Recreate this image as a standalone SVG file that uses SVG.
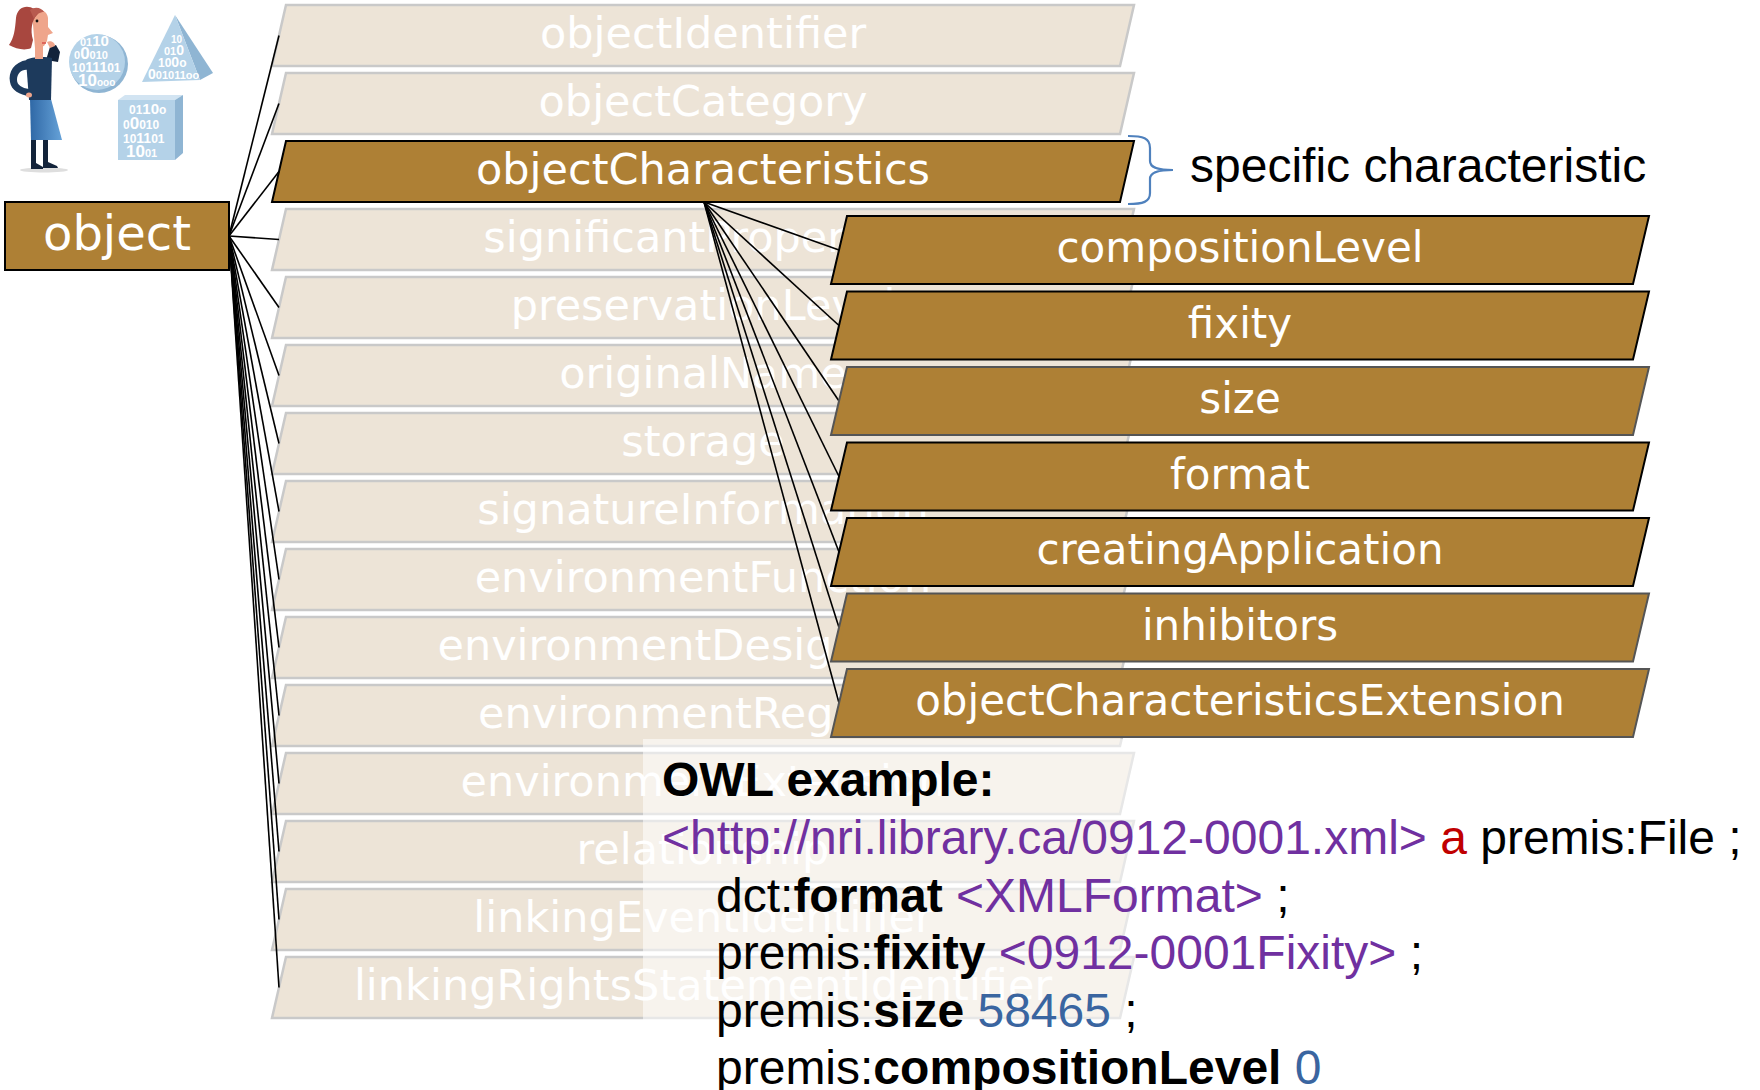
<svg xmlns="http://www.w3.org/2000/svg" width="1760" height="1090" viewBox="0 0 1760 1090">
  <style>
    .band { fill: #ede4d7; stroke: #c9c9c9; stroke-width: 2.5; }
    .brown { fill: #ae8035; stroke: #000; stroke-width: 2; }
    .brown-soft { fill: #ae8035; stroke: #555; stroke-width: 2; }
    .lbl { font-family: "DejaVu Sans", Verdana, sans-serif; font-size: 42px; fill: #fff; text-anchor: middle; }
    .lbl43 { font-size: 43px; }
    .edge { stroke: #000; stroke-width: 1.6; fill: none; }
    .owl { font-family: "Liberation Sans", Arial, sans-serif; font-size: 48px; fill: #000; }
    .b { font-weight: bold; }
    .uri { fill: #7030a0; }
    .kw { fill: #c00000; }
    .num { fill: #3a65a0; }
    .bits { font-family: "Liberation Sans", Arial, sans-serif; font-weight: bold; fill: #fff; }
    .face { fill: #b4d2e8; }
    .side { fill: #8fb5d3; }
    .topf { fill: #d2e4f2; }
  </style>
  <defs>
    <linearGradient id="skirt" x1="0" y1="0" x2="1" y2="0">
      <stop offset="0" stop-color="#2f68a6"/>
      <stop offset="1" stop-color="#66a2d8"/>
    </linearGradient>
  </defs>

  <rect width="1760" height="1090" fill="#fff"/>

  <!-- clip-art: thinking woman and binary solids -->
  <g id="illustration">
    <ellipse cx="44" cy="170" rx="24" ry="2.5" fill="#dedede"/>
    <!-- legs and shoes -->
    <rect x="31" y="138" width="5" height="29" fill="#13233a"/>
    <rect x="43" y="138" width="5" height="28" fill="#13233a"/>
    <path d="M31,164 L36,163 L43,167 L43,169 L31,169 Z" fill="#13233a"/>
    <path d="M43,163 L48,162 L57,166 L58,168 L43,168 Z" fill="#13233a"/>
    <!-- skirt -->
    <polygon points="30,99 51,99 62,140 31,140" fill="url(#skirt)"/>
    <!-- raised arm -->
    <path d="M46,60 L50,47 L56,45 L60,52 L58,62 Z" fill="#13233a"/>
    <!-- torso -->
    <path d="M26,60 C30,57 44,56 52,58 L51,100 L29,100 Z" fill="#1d3a5c"/>
    <!-- arm resting on hip -->
    <path d="M27,60 C14,62 8,72 10,82 C11,90 20,95 29,96 L29,89 C22,88 17,85 17,80 C17,73 22,69 28,70 Z" fill="#1d3a5c"/>
    <ellipse cx="29" cy="95" rx="3" ry="2.5" fill="#efa58b"/>
    <!-- neck, face, hand -->
    <rect x="35" y="46" width="8" height="13" fill="#efa58b"/>
    <path d="M32,13 C38,7 47,10 48,18 L48,27 L53,33 L48,35 L47,41 L44,46 L35,48 Z" fill="#efa58b"/>
    <path d="M47,42 C50,40 55,42 55,46 L50,48 Z" fill="#efa58b"/>
    <circle cx="37" cy="21" r="1.4" fill="#111"/>
    <path d="M42,43 L46,43" stroke="#d23a3a" stroke-width="1.2"/>
    <!-- hair -->
    <path d="M34,9 C27,4 17,7 16,18 C15,30 14,38 9,45 C16,49 25,51 31,48 L33,40 C30,30 32,20 37,15 C39,13 38,10 34,9 Z" fill="#a8473f"/>
    <path d="M30,10 C35,6 42,8 44,12 C40,12 36,14 34,19 Z" fill="#b85a4f"/>

    <!-- disc -->
    <circle cx="99" cy="64" r="29" class="side"/>
    <circle cx="97" cy="62" r="28" class="face"/>
    <text class="bits" font-size="11" x="80" y="46">01<tspan font-size="15">10</tspan></text>
    <text class="bits" font-size="11" x="74" y="59">0<tspan font-size="17">0</tspan>010</text>
    <text class="bits" font-size="12" x="72" y="72">10<tspan font-size="14">111</tspan>01</text>
    <text class="bits" font-size="10" x="78" y="86"><tspan font-size="17">10</tspan>ooo</text>

    <!-- pyramid -->
    <polygon points="175,15 200,80 213,73" class="side"/>
    <polygon points="175,15 142,82 200,80" class="face"/>
    <text class="bits" font-size="10" x="171" y="43">10</text>
    <text class="bits" font-size="11" x="164" y="55">01<tspan font-size="14">0</tspan></text>
    <text class="bits" font-size="12" x="158" y="67">10<tspan font-size="14">0</tspan>o</text>
    <text class="bits" font-size="11" x="148" y="79"><tspan font-size="14">0</tspan>01011oo</text>

    <!-- cube -->
    <polygon points="118,100 125,95 183,95 175,100" class="topf"/>
    <polygon points="175,100 183,95 183,153 175,160" class="side"/>
    <rect x="118" y="100" width="57" height="60" class="face"/>
    <text class="bits" font-size="12" x="129" y="114">01<tspan font-size="15">10</tspan>o</text>
    <text class="bits" font-size="12" x="123" y="129">0<tspan font-size="17">0</tspan>010</text>
    <text class="bits" font-size="12" x="123" y="143">10<tspan font-size="14">11</tspan>01</text>
    <text class="bits" font-size="11" x="126" y="157"><tspan font-size="17">10</tspan>01</text>
  </g>

  <!-- property bands of object -->
  <g id="n-objectIdentifier" transform="translate(0,5)"><polygon class="band" points="286,0 1134,0 1120,61 272,61"/><text class="lbl lbl43" x="703" y="43">objectIdentifier</text></g>
  <g id="n-objectCategory" transform="translate(0,73)"><polygon class="band" points="286,0 1134,0 1120,61 272,61"/><text class="lbl lbl43" x="703" y="43">objectCategory</text></g>
  <g id="n-significantProperties" transform="translate(0,209)"><polygon class="band" points="286,0 1134,0 1120,61 272,61"/><text class="lbl lbl43" x="703" y="43">significantProperties</text></g>
  <g id="n-preservationLevel" transform="translate(0,277)"><polygon class="band" points="286,0 1134,0 1120,61 272,61"/><text class="lbl lbl43" x="703" y="43">preservationLevel</text></g>
  <g id="n-originalName" transform="translate(0,345)"><polygon class="band" points="286,0 1134,0 1120,61 272,61"/><text class="lbl lbl43" x="703" y="43">originalName</text></g>
  <g id="n-storage" transform="translate(0,413)"><polygon class="band" points="286,0 1134,0 1120,61 272,61"/><text class="lbl lbl43" x="703" y="43">storage</text></g>
  <g id="n-signatureInformation" transform="translate(0,481)"><polygon class="band" points="286,0 1134,0 1120,61 272,61"/><text class="lbl lbl43" x="703" y="43">signatureInformation</text></g>
  <g id="n-environmentFunction" transform="translate(0,549)"><polygon class="band" points="286,0 1134,0 1120,61 272,61"/><text class="lbl lbl43" x="703" y="43">environmentFunction</text></g>
  <g id="n-environmentDesignation" transform="translate(0,617)"><polygon class="band" points="286,0 1134,0 1120,61 272,61"/><text class="lbl lbl43" x="703" y="43">environmentDesignation</text></g>
  <g id="n-environmentRegistry" transform="translate(0,685)"><polygon class="band" points="286,0 1134,0 1120,61 272,61"/><text class="lbl lbl43" x="703" y="43">environmentRegistry</text></g>
  <g id="n-environmentExtension" transform="translate(0,753)"><polygon class="band" points="286,0 1134,0 1120,61 272,61"/><text class="lbl lbl43" x="703" y="43">environmentExtension</text></g>
  <g id="n-relationship" transform="translate(0,821)"><polygon class="band" points="286,0 1134,0 1120,61 272,61"/><text class="lbl lbl43" x="703" y="43">relationship</text></g>
  <g id="n-linkingEventIdentifier" transform="translate(0,889)"><polygon class="band" points="286,0 1134,0 1120,61 272,61"/><text class="lbl lbl43" x="703" y="43">linkingEventIdentifier</text></g>
  <g id="n-linkingRightsStatementIdentifier" transform="translate(0,957)"><polygon class="band" points="286,0 1134,0 1120,61 272,61"/><text class="lbl lbl43" x="703" y="43">linkingRightsStatementIdentifier</text></g>

  <!-- selected property -->
  <g id="n-objectCharacteristics" transform="translate(0,141)"><polygon class="brown" points="286,0 1134,0 1120,61 272,61"/><text class="lbl lbl43" x="703" y="43">objectCharacteristics</text></g>

  <!-- root node -->
  <g id="n-object">
    <rect class="brown" x="5" y="202" width="224" height="68"/>
    <text class="lbl" x="117" y="250" style="font-size:48px">object</text>
  </g>

  <!-- connectors -->
  <g id="connectors">
    <g class="edge">
      <line x1="229" y1="236" x2="279" y2="35.5"/>
      <line x1="229" y1="236" x2="279" y2="103.5"/>
      <line x1="229" y1="236" x2="279" y2="171.5"/>
      <line x1="229" y1="236" x2="279" y2="239.5"/>
      <line x1="229" y1="236" x2="279" y2="307.5"/>
      <line x1="229" y1="236" x2="279" y2="375.5"/>
      <line x1="229" y1="236" x2="279" y2="443.5"/>
      <line x1="229" y1="236" x2="279" y2="511.5"/>
      <line x1="229" y1="236" x2="279" y2="579.5"/>
      <line x1="229" y1="236" x2="279" y2="647.5"/>
      <line x1="229" y1="236" x2="279" y2="715.5"/>
      <line x1="229" y1="236" x2="279" y2="783.5"/>
      <line x1="229" y1="236" x2="279" y2="851.5"/>
      <line x1="229" y1="236" x2="279" y2="919.5"/>
      <line x1="229" y1="236" x2="279" y2="987.5"/>
    </g>
    <g class="edge">
      <line x1="704" y1="202" x2="839" y2="250"/>
      <line x1="704" y1="202" x2="839" y2="325.5"/>
      <line x1="704" y1="202" x2="839" y2="401"/>
      <line x1="704" y1="202" x2="839" y2="476.5"/>
      <line x1="704" y1="202" x2="839" y2="552"/>
      <line x1="704" y1="202" x2="839" y2="627.5"/>
      <line x1="704" y1="202" x2="839" y2="703"/>
    </g>
  </g>

  <!-- sub-properties of objectCharacteristics -->
  <g id="n-compositionLevel" transform="translate(0,216)"><polygon class="brown" points="847,0 1649,0 1633,68 831,68"/><text class="lbl" x="1240" y="46">compositionLevel</text></g>
  <g id="n-fixity" transform="translate(0,291.5)"><polygon class="brown" points="847,0 1649,0 1633,68 831,68"/><text class="lbl" x="1240" y="46">fixity</text></g>
  <g id="n-size" transform="translate(0,367)"><polygon class="brown-soft" points="847,0 1649,0 1633,68 831,68"/><text class="lbl" x="1240" y="46">size</text></g>
  <g id="n-format" transform="translate(0,442.5)"><polygon class="brown" points="847,0 1649,0 1633,68 831,68"/><text class="lbl" x="1240" y="46">format</text></g>
  <g id="n-creatingApplication" transform="translate(0,518)"><polygon class="brown" points="847,0 1649,0 1633,68 831,68"/><text class="lbl" x="1240" y="46">creatingApplication</text></g>
  <g id="n-inhibitors" transform="translate(0,593.5)"><polygon class="brown-soft" points="847,0 1649,0 1633,68 831,68"/><text class="lbl" x="1240" y="46">inhibitors</text></g>
  <g id="n-objectCharacteristicsExtension" transform="translate(0,669)"><polygon class="brown-soft" points="847,0 1649,0 1633,68 831,68"/><text class="lbl" x="1240" y="46">objectCharacteristicsExtension</text></g>

  <!-- brace note -->
  <g id="note">
    <path d="M1128,136 C1143,136 1150,138 1150,148 L1150,161 C1150,167 1156,170 1173,170 C1156,170 1150,173 1150,179 L1150,193 C1150,202 1143,204 1128,204" fill="none" stroke="#4f81bd" stroke-width="2.2"/>
    <text x="1190" y="182" style="font-family:'Liberation Sans', Arial, sans-serif; font-size:48px; fill:#000">specific characteristic</text>
  </g>

  <!-- OWL example panel -->
  <g id="owl-example">
    <rect x="643" y="739" width="1117" height="351" fill="#fff" opacity="0.55"/>
    <text class="owl b" x="662" y="796">OWL example:</text>
    <text class="owl" x="662" y="854"><tspan class="uri">&lt;http://nri.library.ca/0912-0001.xml&gt;</tspan> <tspan class="kw">a</tspan> premis:File ;</text>
    <text class="owl" x="716" y="912">dct:<tspan class="b">format</tspan> <tspan class="uri">&lt;XMLFormat&gt;</tspan> ;</text>
    <text class="owl" x="716" y="969">premis:<tspan class="b">fixity</tspan> <tspan class="uri">&lt;0912-0001Fixity&gt;</tspan> ;</text>
    <text class="owl" x="716" y="1027">premis:<tspan class="b">size</tspan> <tspan class="num">58465</tspan> ;</text>
    <text class="owl" x="716" y="1084">premis:<tspan class="b">compositionLevel</tspan> <tspan class="num">0</tspan></text>
  </g>
</svg>
